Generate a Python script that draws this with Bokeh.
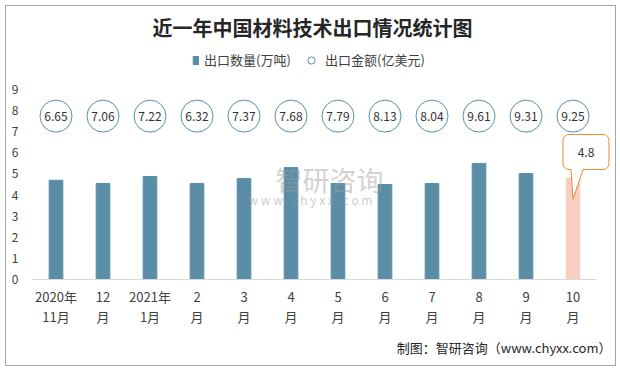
import numpy as np
from bokeh.plotting import figure
from bokeh.models import (ColumnDataSource, FixedTicker, LinearAxis, Label, Legend,
                          LegendItem, Range1d, Title)
from bokeh.core.properties import value
from bokeh.embed import file_html
from bokeh.resources import INLINE

# ---------------- data ----------------
month_line1 = ["2020年", "12", "2021年", "2", "3", "4", "5", "6", "7", "8", "9", "10"]
month_line2 = ["11月", "月", "1月", "月", "月", "月", "月", "月", "月", "月", "月", "月"]
quantity = [4.70, 4.55, 4.88, 4.55, 4.78, 5.30, 4.55, 4.50, 4.55, 5.50, 5.02, 4.80]   # 出口数量(万吨)
amount = [6.65, 7.06, 7.22, 6.32, 7.37, 7.68, 7.79, 8.13, 8.04, 9.61, 9.31, 9.25]     # 出口金额(亿美元)
y_ticks = [0, 1, 2, 3, 4, 5, 6, 7, 8, 9]

FONT = "Noto Sans CJK SC"
BAR = "#5A8EA6"
BAR_HI = "#F8CFC3"
CIRCLE = "#5B8FA8"
ORANGE = "#E8892F"
TXT = "#404040"

# ---------------- layout ----------------
OFF = 5                      # figure offset on the page
W, H = 611, 361
ML, MR = 26, 6
UX = 47.0                    # px per category
UY = 21.11                   # px per unit
frame_h = 273                # y=0 sits 273px below the figure top
MB = H - frame_h
frame_w = W - ML - MR
x_lo = -0.5
x_hi = x_lo + frame_w / UX
y_hi = frame_h / UY
AMT_LEVEL = 7.74             # height of the amount bubbles row

def dx(px):  # page px -> data x
    return x_lo + (px - OFF - ML) / UX

def dy(py):  # page px -> data y
    return (frame_h - (py - OFF)) / UY

n = len(quantity)
xs = list(range(n))
colors = [BAR] * (n - 1) + [BAR_HI]

src = ColumnDataSource(dict(
    x=xs, qty=quantity, color=colors,
    amt_y=[AMT_LEVEL] * n, amt_txt=[f"{a:.2f}" for a in amount],
))

p = figure(width=W, height=H, x_range=Range1d(x_lo, x_hi), y_range=Range1d(0, y_hi),
           output_backend="svg", toolbar_location=None,
           min_border_left=ML, min_border_right=MR, min_border_top=0, min_border_bottom=MB)
p.outline_line_color = None
p.xgrid.visible = False
p.ygrid.visible = False
p.background_fill_color = "white"
p.border_fill_color = "white"
p.styles = {"margin-left": f"{OFF}px", "margin-top": f"{OFF}px",
            "border": "1px solid #A6A6A6"}

bars = p.vbar(x="x", top="qty", width=0.29, color="color", source=src)
circles = p.scatter(x="x", y="amt_y", size=32, marker="circle", fill_color="white",
                    line_color=CIRCLE, line_width=1, source=src)
p.text(x="x", y="amt_y", text="amt_txt", text_align="center", text_baseline="middle",
       text_font=value(FONT), text_font_size="12px", text_color="#333333", source=src)

# ---------------- axes ----------------
xa = p.xaxis[0]
xa.ticker = FixedTicker(ticks=xs)
xa.major_label_overrides = {i: s for i, s in enumerate(month_line1)}
xa.major_tick_line_color = None
xa.minor_tick_line_color = None
xa.axis_line_color = "#D9D9D9"
xa.bounds = (-0.5, n - 0.5)
xa.major_label_standoff = 1
xa.major_label_text_font = FONT
xa.major_label_text_font_size = "13px"
xa.major_label_text_color = TXT

xa2 = LinearAxis(ticker=FixedTicker(ticks=xs),
                 major_label_overrides={i: s for i, s in enumerate(month_line2)},
                 axis_line_color=None, major_tick_line_color=None, minor_tick_line_color=None,
                 major_label_standoff=-8, major_label_text_font=FONT,
                 major_label_text_font_size="13px", major_label_text_color=TXT)
p.add_layout(xa2, "below")

p.add_layout(Title(text="制图：智研咨询（www.chyxx.com）", align="right", offset=0,
                   standoff=15, text_font=FONT, text_font_size="13px",
                   text_font_style="normal", text_color="#262626"), "below")

ya = p.yaxis[0]
ya.ticker = FixedTicker(ticks=y_ticks)
ya.axis_line_color = None
ya.major_tick_line_color = None
ya.minor_tick_line_color = None
ya.major_label_standoff = 8
ya.major_label_text_font = FONT
ya.major_label_text_font_size = "12px"
ya.major_label_text_color = TXT

# ---------------- legends ----------------
leg1 = Legend(items=[LegendItem(label="出口数量(万吨)", renderers=[bars])],
              location=(160, 210), orientation="horizontal",
              glyph_width=7, glyph_height=10, label_standoff=5, padding=0, margin=0,
              border_line_color=None, background_fill_alpha=0,
              label_text_font=FONT, label_text_font_size="13px", label_text_color=TXT)
leg2 = Legend(items=[LegendItem(label="出口金额(亿美元)", renderers=[circles])],
              location=(270, 210), orientation="horizontal",
              glyph_width=18, glyph_height=18, label_standoff=5, padding=0, margin=0,
              border_line_color=None, background_fill_alpha=0,
              label_text_font=FONT, label_text_font_size="13px", label_text_color=TXT)
p.add_layout(leg1)
p.add_layout(leg2)

# ---------------- title / watermark ----------------
p.add_layout(Label(x=dx(311), y=dy(26), text="近一年中国材料技术出口情况统计图",
                   text_align="center", text_baseline="middle", text_font=FONT,
                   text_font_size="20px", text_font_style="bold", text_color="#262626"))
p.add_layout(Label(x=dx(328), y=dy(178), text="智研咨询", text_align="center",
                   text_baseline="middle", text_font=FONT, text_font_size="27px",
                   text_color="#9A9A9A", text_alpha=0.45))
p.add_layout(Label(x=dx(309), y=dy(198), text="w w w . c h y x x . c o m", text_align="center",
                   text_baseline="middle", text_font=FONT, text_font_size="12px",
                   text_color="#9A9A9A", text_alpha=0.5))

# ---------------- callout on the last bar ----------------
last_i, last_v = xs[-1], quantity[-1]
L_, R_, T_, B_, r = -10.0, 36.0, -43.7, -8.7, 6.0
pts = [(0.0, 21.0), (10.0, B_)]
def arc(cx, cy, t0, t1):
    return [(cx + r * np.cos(np.radians(t)), cy + r * np.sin(np.radians(t)))
            for t in np.linspace(t0, t1, 8)]
pts += arc(R_ - r, B_ - r, 90, 0)
pts += arc(R_ - r, T_ + r, 0, -90)
pts += arc(L_ + r, T_ + r, -90, -180)
pts += arc(L_ + r, B_ - r, 180, 90)
pts += [(-2.0, B_)]
px_ = [last_i + ox / UX for ox, oy in pts]
py_ = [last_v - oy / UY for ox, oy in pts]
p.patch(px_, py_, fill_color="white", line_color=ORANGE, line_width=1)
p.text(x=[last_i + 13 / UX], y=[last_v + 25.7 / UY], text=[f"{last_v}"],
       text_align="center", text_baseline="middle", text_font=value(FONT),
       text_font_size="12px", text_color="#333333")

open("out.html", "w").write(file_html(p, INLINE))
